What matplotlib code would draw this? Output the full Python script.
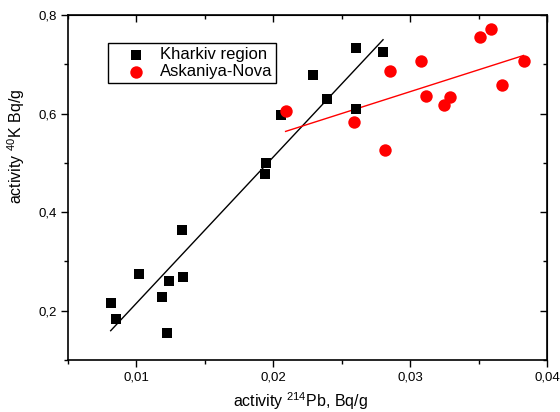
import numpy as np
import matplotlib.pyplot as plt
from matplotlib.ticker import MultipleLocator, FuncFormatter

plt.rcParams['font.family'] = ['Liberation Sans', 'DejaVu Sans']
plt.rcParams['mathtext.fontset'] = 'custom'
plt.rcParams['mathtext.rm'] = 'Liberation Sans'
plt.rcParams['mathtext.it'] = 'Liberation Sans:italic'

## Kharkiv region samples
pb_kharkiv = [0.00812, 0.00849, 0.01019, 0.01185, 0.01236, 0.01224, 0.01337, 0.01332,
              0.01946, 0.01941, 0.02056, 0.0229, 0.02393, 0.02605, 0.02605, 0.02802]
k_kharkiv = [0.215, 0.184, 0.2735, 0.2274, 0.2613, 0.154, 0.268, 0.3635,
             0.500, 0.477, 0.598, 0.6775, 0.6288, 0.7324, 0.609, 0.725]

## Askaniya-Nova samples
pb_askania = [0.0209, 0.0259, 0.02819, 0.02851, 0.0308, 0.03119, 0.03249, 0.0329,
              0.0351, 0.0359, 0.0367, 0.03829]
k_askania = [0.6057, 0.5821, 0.5259, 0.6863, 0.706, 0.635, 0.6166, 0.6329,
             0.7553, 0.7716, 0.6585, 0.7072]

def comma(v, pos):
    return ('%g' % round(v, 4)).replace('.', ',')

def linfit(x, y):
    x = np.array(x)
    b, a = np.polyfit(x, np.array(y), 1)
    xx = np.array([x.min(), x.max()])
    return xx, a + b * xx

fig = plt.figure(figsize=(5.6, 4.12), dpi=100)
ax = fig.add_axes([0.1214, 0.1262, 0.8554, 0.8374])

ax.scatter(pb_kharkiv, k_kharkiv, s=52, marker='s', c='k', linewidths=0,
           label='Kharkiv region', zorder=3)
ax.scatter(pb_askania, k_askania, s=80, marker='o', c='#ff0000', linewidths=0,
           label='Askaniya-Nova', zorder=3)

xf, yf = linfit(pb_kharkiv, k_kharkiv)
ax.plot(xf, yf, color='k', lw=1.0, zorder=2)
xf, yf = linfit(pb_askania, k_askania)
ax.plot(xf, yf, color='#ff0000', lw=1.0, zorder=2)

ax.set_xlim(0.005, 0.04)
ax.set_ylim(0.1, 0.8)
ax.xaxis.set_major_locator(MultipleLocator(0.01))
ax.xaxis.set_minor_locator(MultipleLocator(0.005))
ax.yaxis.set_major_locator(MultipleLocator(0.2))
ax.yaxis.set_minor_locator(MultipleLocator(0.1))
ax.xaxis.set_major_formatter(FuncFormatter(comma))
ax.yaxis.set_major_formatter(FuncFormatter(comma))
ax.tick_params(which='major', direction='out', length=5, width=1, labelsize=9.5, pad=3)
ax.tick_params(which='minor', direction='out', length=3, width=1)
for s in ax.spines.values():
    s.set_linewidth(1.2)

## mirror ticks on top and right, pointing inwards
top = ax.secondary_xaxis('top')
top.xaxis.set_major_locator(MultipleLocator(0.01))
top.xaxis.set_minor_locator(MultipleLocator(0.005))
top.tick_params(which='both', direction='in', labeltop=False, width=1)
top.tick_params(which='major', length=5)
top.tick_params(which='minor', length=3)
right = ax.secondary_yaxis('right')
right.yaxis.set_major_locator(MultipleLocator(0.2))
right.yaxis.set_minor_locator(MultipleLocator(0.1))
right.tick_params(which='both', direction='in', labelright=False, width=1)
right.tick_params(which='major', length=5)
right.tick_params(which='minor', length=3)

ax.set_xlabel('activity $^{214}$Pb, Bq/g', fontsize=11.5)
ax.set_ylabel('activity $^{40}$K Bq/g', fontsize=11.5)
ax.xaxis.set_label_coords(0.486, -0.088)
ax.yaxis.set_label_coords(-0.086, 0.62)

leg = ax.legend(loc='upper left', bbox_to_anchor=(0.0835, 0.919), borderaxespad=0,
                fontsize=12, fancybox=False, edgecolor='k', framealpha=1,
                handlelength=2.9, handletextpad=-0.05, borderpad=0.25,
                labelspacing=0.12)
leg.get_frame().set_linewidth(1.0)

fig.savefig('out.png', dpi=100)
